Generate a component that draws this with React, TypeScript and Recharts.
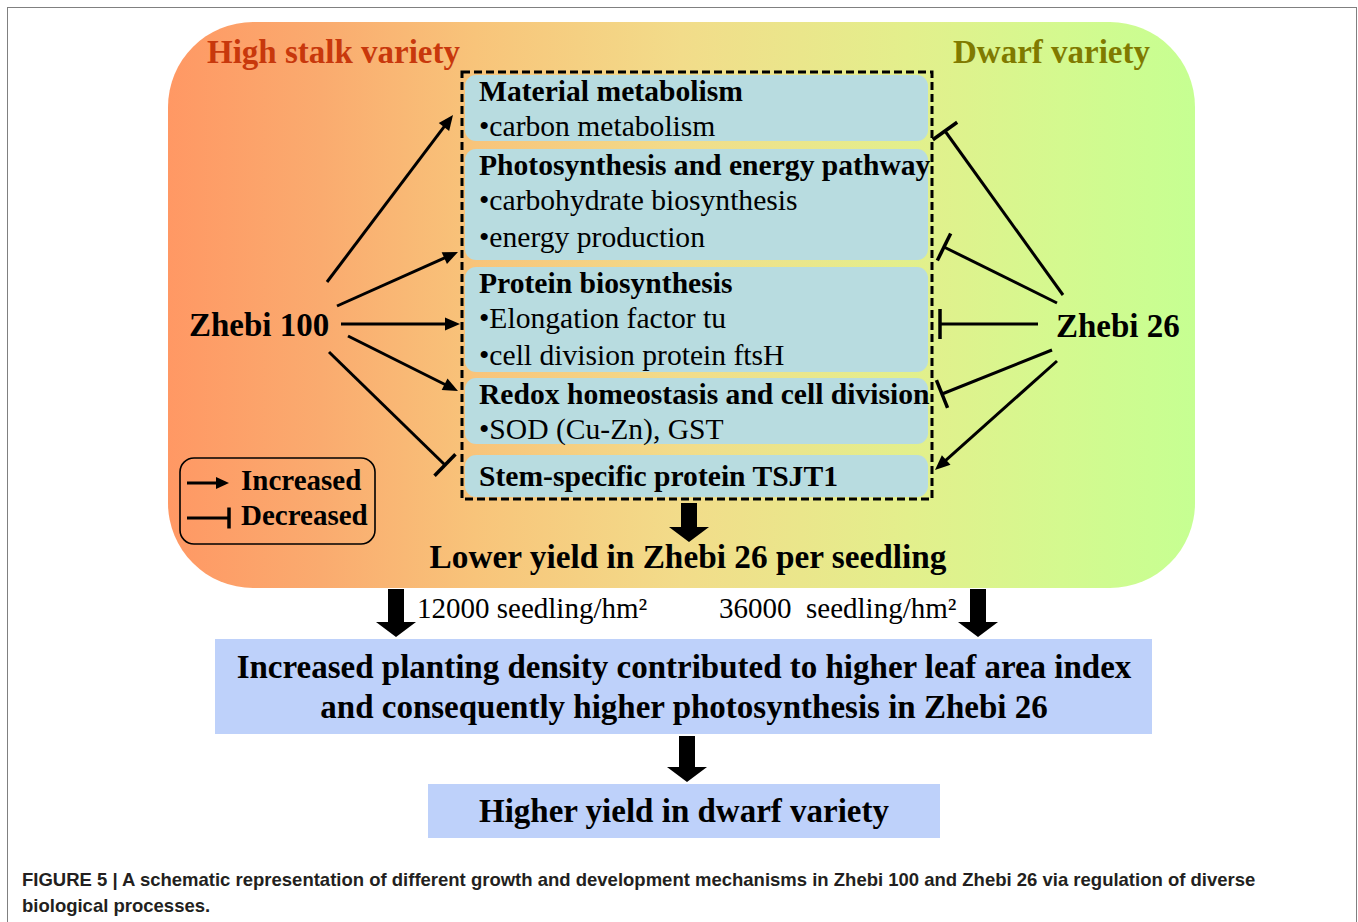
import { ComposedChart, XAxis, YAxis, ReferenceArea, ReferenceLine, Scatter } from "recharts";

// ── Data ──────────────────────────────────────────────────

const varietyTitles = ["High stalk variety", "Dwarf variety"];
const varieties = ["Zhebi 100", "Zhebi 26"];

const processHeadings = [
  "Material metabolism",
  "Photosynthesis and energy pathway",
  "Protein biosynthesis",
  "Redox homeostasis and cell division",
  "Stem-specific protein TSJT1",
];
const processItems = [
  ["carbon metabolism"],
  ["carbohydrate biosynthesis", "energy production"],
  ["Elongation factor tu", "cell division protein ftsH"],
  ["SOD (Cu-Zn), GST"],
  [],
];

// effect of each variety on each process (same order as processHeadings)
const zhebi100Effects = ["increase", "increase", "increase", "increase", "decrease"];
const zhebi26Effects = ["decrease", "decrease", "decrease", "decrease", "increase"];

const legendLabels = ["Increased", "Decreased"];
const legendKinds = ["increase", "decrease"];

const perSeedlingOutcome = "Lower yield in Zhebi 26 per seedling";
const densityLabels = ["12000 seedling/hm²", "36000  seedling/hm²"];
const densityOutcome = [
  "Increased planting density contributed to higher leaf area index",
  "and consequently higher photosynthesis in Zhebi 26",
];
const finalOutcome = "Higher yield in dwarf variety";

const captionLines = [
  "FIGURE 5 | A schematic representation of different growth and development mechanisms in Zhebi 100 and Zhebi 26 via regulation of diverse",
  "biological processes.",
];

// ── Layout (diagram coordinates, 1:1 with the axes) ───────

const W = 1358;
const H = 922;

const panel = { x1: 168, x2: 1195, y1: 22, y2: 588 };
const dashed = { x1: 462, x2: 932, y1: 72, y2: 499 };
const boxX = [465, 928];
const boxY = [
  [75, 141],
  [149, 260],
  [267, 372],
  [378, 444],
  [455, 497],
];
const legendBox = { x1: 180, x2: 375, y1: 458, y2: 544 };

const leftEdges = [
  [327, 282, 453, 115],
  [337, 306, 458, 252],
  [341, 324, 460, 324],
  [348, 336, 458, 391],
  [329, 352, 445, 465],
];
const rightEdges = [
  [1063, 295, 945, 131],
  [1057, 303, 944, 247],
  [1038, 324, 940, 324],
  [1052, 350, 942, 394],
  [1057, 361, 935, 470],
];
const legendEdges = [
  [187, 483, 229, 483],
  [187, 518, 229, 518],
];
const blockArrows = [
  [689, 503, 689, 542],
  [396, 589, 396, 637],
  [978, 589, 978, 637],
  [687, 736, 687, 782],
];
const outcomeBox = { x1: 215, x2: 1152, y1: 639, y2: 734 };
const finalBox = { x1: 428, x2: 940, y1: 784, y2: 838 };

const SERIF = "'Liberation Serif', 'Times New Roman', Times, serif";
const SANS = "'Liberation Sans', Arial, Helvetica, sans-serif";

const styles = {
  titleColors: ["#c8380c", "#807a00"],
  boxFill: "#b8dce0",
  outcomeFill: "#bed1fa",
  boxFont: 29.6,
};

// ── Label table for the scatter layer ─────────────────────

type LabelRow = {
  x: number;
  y: number;
  text: string;
  size: number;
  weight: number;
  color: string;
  anchor: "start" | "middle";
};

const labelRows: LabelRow[] = [
  { x: 207, y: 63, text: varietyTitles[0], size: 33, weight: 700, color: styles.titleColors[0], anchor: "start" },
  { x: 953, y: 63, text: varietyTitles[1], size: 33, weight: 700, color: styles.titleColors[1], anchor: "start" },
  { x: 189, y: 336, text: varieties[0], size: 33, weight: 700, color: "#000", anchor: "start" },
  { x: 1056, y: 337, text: varieties[1], size: 33, weight: 700, color: "#000", anchor: "start" },
  { x: 241, y: 490, text: legendLabels[0], size: 29, weight: 700, color: "#000", anchor: "start" },
  { x: 241, y: 525, text: legendLabels[1], size: 29, weight: 700, color: "#000", anchor: "start" },
  { x: 688, y: 568, text: perSeedlingOutcome, size: 33.3, weight: 700, color: "#000", anchor: "middle" },
  { x: 417, y: 618, text: densityLabels[0], size: 29, weight: 400, color: "#000", anchor: "start" },
  { x: 719, y: 618, text: densityLabels[1], size: 29, weight: 400, color: "#000", anchor: "start" },
  { x: 684, y: 678, text: densityOutcome[0], size: 33, weight: 700, color: "#000", anchor: "middle" },
  { x: 684, y: 718, text: densityOutcome[1], size: 33, weight: 700, color: "#000", anchor: "middle" },
  { x: 684, y: 822, text: finalOutcome, size: 33, weight: 700, color: "#000", anchor: "middle" },
];

// ── Shapes ────────────────────────────────────────────────

const Edge = ({ x1, y1, x2, y2, kind, head = 15, half = 6.5, bar = 15 }: any) => {
  const len = Math.hypot(x2 - x1, y2 - y1);
  const ux = (x2 - x1) / len;
  const uy = (y2 - y1) / len;
  const px = -uy;
  const py = ux;
  if (kind === "increase") {
    const bx = x2 - ux * head;
    const by = y2 - uy * head;
    return (
      <g>
        <line x1={x1} y1={y1} x2={bx + ux} y2={by + uy} stroke="#000" strokeWidth={3} />
        <polygon
          points={`${x2},${y2} ${bx + px * half},${by + py * half} ${bx - px * half},${by - py * half}`}
          fill="#000"
        />
      </g>
    );
  }
  return (
    <g>
      <line x1={x1} y1={y1} x2={x2} y2={y2} stroke="#000" strokeWidth={3} />
      <line
        x1={x2 + px * bar}
        y1={y2 + py * bar}
        x2={x2 - px * bar}
        y2={y2 - py * bar}
        stroke="#000"
        strokeWidth={3.5}
      />
    </g>
  );
};

const BlockArrow = ({ x1, y1, y2 }: any) => {
  const s = 8;
  const h = 20;
  const hl = 15;
  const pts = [
    [x1 - s, y1],
    [x1 + s, y1],
    [x1 + s, y2 - hl],
    [x1 + h, y2 - hl],
    [x1, y2],
    [x1 - h, y2 - hl],
    [x1 - s, y2 - hl],
  ];
  return <polygon points={pts.map((p) => p.join(",")).join(" ")} fill="#000" />;
};

const PanelShape = ({ x, y, width, height }: any) => (
  <g>
    <defs>
      <linearGradient id="panelGrad" x1="0" y1="0" x2="1" y2="0">
        <stop offset="0%" stopColor="#ff9864" />
        <stop offset="15%" stopColor="#faab6f" />
        <stop offset="30%" stopColor="#f8c47a" />
        <stop offset="50%" stopColor="#f2dc8a" />
        <stop offset="72%" stopColor="#e3ef8c" />
        <stop offset="87%" stopColor="#d4f98f" />
        <stop offset="100%" stopColor="#c6ff92" />
      </linearGradient>
    </defs>
    <rect x={x} y={y} width={width} height={height} rx={85} ry={85} fill="url(#panelGrad)" />
  </g>
);

const ProcessBox = ({ x, y, width, height, heading, items }: any) => (
  <g fontFamily={SERIF} fill="#000">
    <rect x={x} y={y} width={width} height={height} rx={11} ry={11} fill={styles.boxFill} />
    <text
      x={x + 14}
      y={items.length ? y + 26 : y + height / 2 + 10}
      fontSize={styles.boxFont}
      fontWeight={700}
      fill="#000"
    >
      {heading}
    </text>
    {items.map((t: string, i: number) => (
      <text key={t} x={x + 14} y={y + 61 + i * 37} fontSize={styles.boxFont} fill="#000">
        {"•" + t}
      </text>
    ))}
  </g>
);

const DashedFrame = ({ x, y, width, height }: any) => (
  <rect
    x={x}
    y={y}
    width={width}
    height={height}
    fill="none"
    stroke="#000"
    strokeWidth={3}
    strokeDasharray="8 4"
  />
);

const LegendFrame = ({ x, y, width, height }: any) => (
  <rect x={x} y={y} width={width} height={height} rx={14} ry={14} fill="none" stroke="#000" strokeWidth={1.6} />
);

const FlatBox = ({ x, y, width, height }: any) => (
  <rect x={x} y={y} width={width} height={height} fill={styles.outcomeFill} />
);

const LabelShape = ({ cx, cy, payload }: any) => (
  <text
    x={cx}
    y={cy}
    fontFamily={SERIF}
    fontSize={payload.size}
    fontWeight={payload.weight}
    fill={payload.color}
    textAnchor={payload.anchor}
    style={{ whiteSpace: "pre" }}
  >
    {payload.text}
  </text>
);

// ── Component ─────────────────────────────────────────────

export default function App() {
  const seg = (e: number[]) => [
    { x: e[0], y: e[1] },
    { x: e[2], y: e[3] },
  ];

  return (
    <div style={{ position: "absolute", left: 0, top: 0, width: W, height: H, background: "#fff" }}>
      <div
        style={{
          position: "absolute",
          left: 7,
          top: 7,
          width: 1348,
          height: 1000,
          border: "1.5px solid #808080",
        }}
      />
      <div style={{ position: "absolute", left: 0, top: 0 }}>
        <ComposedChart width={W} height={H} margin={{ top: 0, right: 0, bottom: 0, left: 0 }}>
          <XAxis type="number" dataKey="x" domain={[0, W]} allowDataOverflow hide />
          <YAxis type="number" dataKey="y" domain={[0, H]} allowDataOverflow reversed hide />

          <ReferenceArea {...panel} shape={(p: any) => <PanelShape {...p} />} />

          {processHeadings.map((heading, i) => (
            <ReferenceArea
              key={heading}
              x1={boxX[0]}
              x2={boxX[1]}
              y1={boxY[i][0]}
              y2={boxY[i][1]}
              shape={(p: any) => <ProcessBox {...p} heading={heading} items={processItems[i]} />}
            />
          ))}
          <ReferenceArea {...dashed} shape={(p: any) => <DashedFrame {...p} />} />
          <ReferenceArea {...legendBox} shape={(p: any) => <LegendFrame {...p} />} />
          <ReferenceArea {...outcomeBox} shape={(p: any) => <FlatBox {...p} />} />
          <ReferenceArea {...finalBox} shape={(p: any) => <FlatBox {...p} />} />

          {zhebi100Effects.map((kind, i) => (
            <ReferenceLine
              key={`l${i}`}
              segment={seg(leftEdges[i])}
              shape={(p: any) => <Edge {...p} kind={kind} />}
            />
          ))}
          {zhebi26Effects.map((kind, i) => (
            <ReferenceLine
              key={`r${i}`}
              segment={seg(rightEdges[i])}
              shape={(p: any) => <Edge {...p} kind={kind} />}
            />
          ))}
          {legendKinds.map((kind, i) => (
            <ReferenceLine
              key={`g${i}`}
              segment={seg(legendEdges[i])}
              shape={(p: any) => <Edge {...p} kind={kind} head={13} half={6} bar={10.5} />}
            />
          ))}
          {blockArrows.map((e, i) => (
            <ReferenceLine key={`b${i}`} segment={seg(e)} shape={(p: any) => <BlockArrow {...p} />} />
          ))}

          <Scatter data={labelRows} shape={(p: any) => <LabelShape {...p} />} isAnimationActive={false} />
        </ComposedChart>
      </div>
      <div
        style={{
          position: "absolute",
          left: 22,
          top: 867,
          fontFamily: SANS,
          fontWeight: 700,
          fontSize: 18.5,
          lineHeight: "26px",
          color: "#231f20",
          whiteSpace: "nowrap",
        }}
      >
        {captionLines.map((l) => (
          <div key={l}>{l}</div>
        ))}
      </div>
    </div>
  );
}
